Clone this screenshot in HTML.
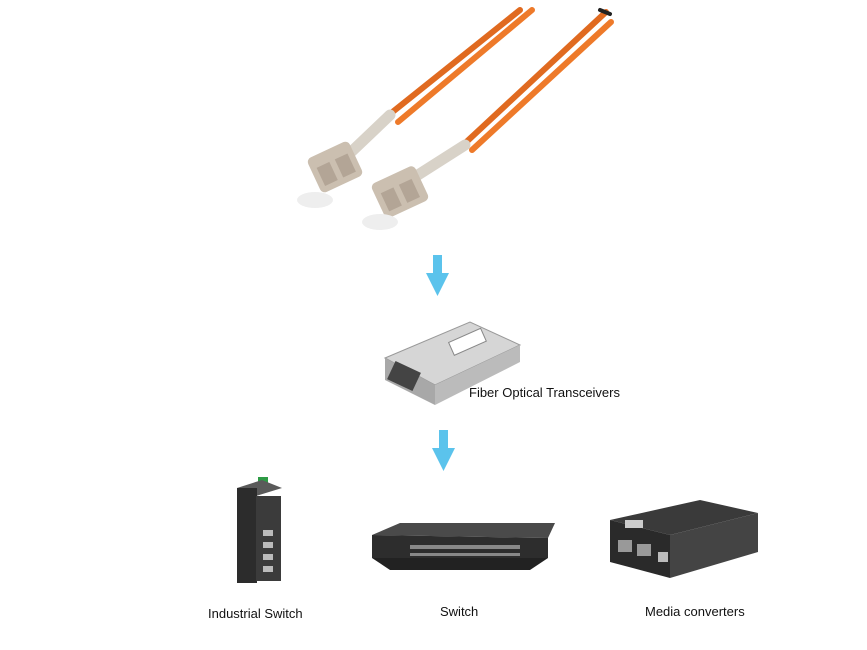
<!DOCTYPE html>
<html><head><meta charset="utf-8"><style>
body{margin:0;background:#fff;width:867px;height:650px;overflow:hidden;font-family:"Liberation Sans",Arial,sans-serif}
.t{position:absolute;font-size:13px;color:#111}
</style></head><body>
<svg width="867" height="650" style="position:absolute;left:0;top:0">
<g stroke-linecap="round">
<line x1="520" y1="10" x2="385" y2="118" stroke="#e06a20" stroke-width="6"/>
<line x1="532" y1="10" x2="398" y2="122" stroke="#ee7a2a" stroke-width="6"/>
<line x1="606" y1="12" x2="462" y2="146" stroke="#e06a20" stroke-width="6"/>
<line x1="611" y1="22" x2="472" y2="150" stroke="#ee7a2a" stroke-width="6"/>
<line x1="600" y1="10" x2="610" y2="14" stroke="#222" stroke-width="4"/>
<line x1="390" y1="115" x2="348" y2="155" stroke="#d8d2c8" stroke-width="11"/>
<line x1="465" y1="145" x2="410" y2="180" stroke="#d8d2c8" stroke-width="11"/>
</g>
<rect x="312" y="148" width="46" height="38" rx="5" fill="#cbbfb0" transform="rotate(-25 335 167)"/>
<rect x="318" y="160" width="14" height="20" fill="#b3a596" transform="rotate(-25 335 167)"/>
<rect x="338" y="160" width="14" height="20" fill="#b3a596" transform="rotate(-25 335 167)"/>
<rect x="376" y="173" width="48" height="38" rx="5" fill="#cbbfb0" transform="rotate(-25 400 192)"/>
<rect x="382" y="185" width="14" height="20" fill="#b3a596" transform="rotate(-25 400 192)"/>
<rect x="402" y="185" width="14" height="20" fill="#b3a596" transform="rotate(-25 400 192)"/>
<ellipse cx="315" cy="200" rx="18" ry="8" fill="#eeeeee"/>
<ellipse cx="380" cy="222" rx="18" ry="8" fill="#eeeeee"/>
<!-- arrows -->
<g fill="#5bc3ec">
<rect x="433" y="255" width="9" height="20"/><polygon points="426,273 449,273 437.5,296"/>
<rect x="439" y="430" width="9" height="20"/><polygon points="432,448 455,448 443.5,471"/>
</g>
<!-- transceiver -->
<polygon points="385,358 470,322 520,345 435,385" fill="#d6d6d6" stroke="#999"/>
<polygon points="385,358 435,385 435,405 385,380" fill="#a8a8a8"/>
<polygon points="435,385 520,345 520,362 435,405" fill="#bbb"/>
<rect x="390" y="366" width="28" height="20" fill="#444" transform="rotate(25 404 376)"/>
<rect x="450" y="335" width="35" height="14" fill="#fff" stroke="#888" transform="rotate(-24 467 342)"/>
<!-- industrial switch -->
<rect x="258" y="477" width="10" height="12" fill="#2e9b45"/>
<polygon points="237,488 262,480 282,488 256,496" fill="#5a5a5a"/>
<rect x="237" y="488" width="20" height="95" fill="#2c2c2c"/>
<rect x="256" y="496" width="25" height="85" fill="#3b3b3b"/>
<g fill="#bbb"><rect x="263" y="530" width="10" height="6"/><rect x="263" y="542" width="10" height="6"/><rect x="263" y="554" width="10" height="6"/><rect x="263" y="566" width="10" height="6"/></g>
<!-- switch -->
<polygon points="372,535 400,523 555,523 548,538" fill="#4a4a4a"/>
<polygon points="372,535 548,538 548,558 372,558" fill="#2d2d2d"/>
<polygon points="372,558 548,558 530,570 390,570" fill="#222"/>
<g fill="#888"><rect x="410" y="545" width="110" height="4"/><rect x="410" y="553" width="110" height="3"/></g>
<!-- media converter -->
<polygon points="610,520 700,500 758,513 670,535" fill="#3a3a3a"/>
<polygon points="610,520 670,535 670,578 610,562" fill="#2a2a2a"/>
<polygon points="670,535 758,513 758,552 670,578" fill="#444"/>
<rect x="625" y="520" width="18" height="8" fill="#ccc"/>
<rect x="618" y="540" width="14" height="12" fill="#999"/>
<rect x="637" y="544" width="14" height="12" fill="#999"/>
<rect x="658" y="552" width="10" height="10" fill="#bbb"/>
</svg>
<div class="t" style="left:469px;top:385px">Fiber Optical Transceivers</div>
<div class="t" style="left:208px;top:606px">Industrial Switch</div>
<div class="t" style="left:440px;top:604px">Switch</div>
<div class="t" style="left:645px;top:604px">Media converters</div>
</body></html>
